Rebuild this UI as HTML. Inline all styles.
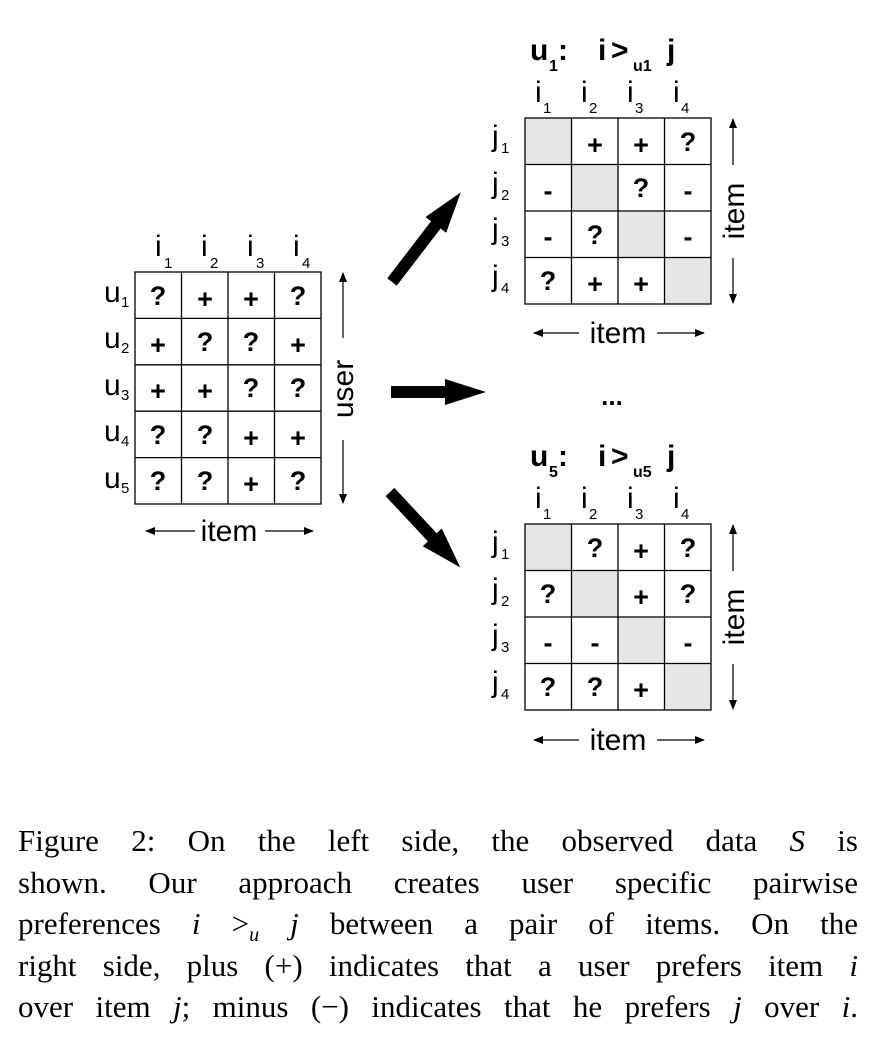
<!DOCTYPE html>
<html><head><meta charset="utf-8"><style>
html,body{margin:0;padding:0;background:#fff;width:878px;height:1044px;overflow:hidden}
svg{position:absolute;left:0;top:0}
.cap{position:absolute;left:18px;width:840px;top:820px;font-family:"Liberation Serif",serif;font-size:31px;line-height:41.5px;color:#000}
.cap div{text-align:justify;text-align-last:justify;white-space:nowrap;height:41.5px}
.cap i{font-style:italic}
</style></head><body>
<svg width="878" height="800" viewBox="0 0 878 800" font-family="Liberation Sans, sans-serif">
<defs>
<marker id="ah" markerWidth="10" markerHeight="8" refX="9" refY="4" orient="auto" markerUnits="userSpaceOnUse"><path d="M0,0 L10,4 L0,8 Z" fill="#000"/></marker>
</defs>
<g stroke="#000" stroke-width="1.3" fill="none">
<rect x="135" y="272" width="186" height="232"/>
<line x1="181.5" y1="272" x2="181.5" y2="504"/><line x1="228" y1="272" x2="228" y2="504"/><line x1="274.5" y1="272" x2="274.5" y2="504"/>
<line x1="135" y1="318.4" x2="321" y2="318.4"/><line x1="135" y1="364.8" x2="321" y2="364.8"/><line x1="135" y1="411.2" x2="321" y2="411.2"/><line x1="135" y1="457.6" x2="321" y2="457.6"/>
</g>
<g font-size="27" font-weight="bold" text-anchor="middle">
<text x="158" y="305">?</text><text x="205" y="308">+</text><text x="251" y="308">+</text><text x="298" y="305">?</text>
<text x="158" y="354">+</text><text x="205" y="351">?</text><text x="251" y="351">?</text><text x="298" y="354">+</text>
<text x="158" y="400">+</text><text x="205" y="400">+</text><text x="251" y="397">?</text><text x="298" y="397">?</text>
<text x="158" y="444">?</text><text x="205" y="444">?</text><text x="251" y="447">+</text><text x="298" y="447">+</text>
<text x="158" y="490">?</text><text x="205" y="490">?</text><text x="251" y="493">+</text><text x="298" y="490">?</text>
</g>
<g font-size="30">
<text x="155" y="256">i</text><text x="201" y="256">i</text><text x="247" y="256">i</text><text x="293" y="256">i</text>
<text x="104" y="302">u</text><text x="104" y="348">u</text><text x="104" y="395">u</text><text x="104" y="441">u</text><text x="104" y="488">u</text>
</g>
<g font-size="15">
<text x="164" y="268">1</text><text x="210" y="268">2</text><text x="256" y="268">3</text><text x="302" y="268">4</text>
<text x="121" y="307">1</text><text x="121" y="353">2</text><text x="121" y="400">3</text><text x="121" y="446">4</text><text x="121" y="493">5</text>
</g>
<line x1="343" y1="338" x2="343" y2="273" stroke="#000" stroke-width="1.2" marker-end="url(#ah)"/>
<line x1="343" y1="440" x2="343" y2="503" stroke="#000" stroke-width="1.2" marker-end="url(#ah)"/>
<text x="0" y="0" font-size="30" text-anchor="middle" transform="translate(353,389) rotate(-90)">user</text>
<line x1="195" y1="531" x2="146" y2="531" stroke="#000" stroke-width="1.2" marker-end="url(#ah)"/>
<line x1="265" y1="531" x2="313" y2="531" stroke="#000" stroke-width="1.2" marker-end="url(#ah)"/>
<text x="229" y="541" font-size="30" text-anchor="middle">item</text>

<polygon points="0,-6 54,-6 54,-13 95,0 54,13 54,6 0,6" fill="#000" transform="translate(391,392)"/>
<polygon points="0,-6 72,-6 72,-13 113,0 72,13 72,6 0,6" fill="#000" transform="translate(392,282) rotate(-52.5)"/>
<polygon points="0,-6 62,-6 62,-13 103,0 62,13 62,6 0,6" fill="#000" transform="translate(390,492) rotate(47)"/>

<g font-weight="bold" font-size="30">
<text x="530" y="60">u</text><text x="558" y="60">:</text><text x="598" y="60">i</text><text x="611" y="60">&gt;</text><text x="667" y="60">j</text>
</g>
<g font-weight="bold" font-size="16"><text x="549" y="71">1</text><text x="633" y="71">u1</text></g>
<rect x="525" y="118" width="46.5" height="46.5" fill="#e6e6e6"/>
<rect x="571.5" y="164.5" width="46.5" height="46.5" fill="#e6e6e6"/>
<rect x="618" y="211" width="46.5" height="46.5" fill="#e6e6e6"/>
<rect x="664.5" y="257.5" width="46.5" height="46.5" fill="#e6e6e6"/>
<g stroke="#000" stroke-width="1.3" fill="none">
<rect x="525" y="118" width="186" height="186"/>
<line x1="571.5" y1="118" x2="571.5" y2="304"/><line x1="618" y1="118" x2="618" y2="304"/><line x1="664.5" y1="118" x2="664.5" y2="304"/>
<line x1="525" y1="164.5" x2="711" y2="164.5"/><line x1="525" y1="211" x2="711" y2="211"/><line x1="525" y1="257.5" x2="711" y2="257.5"/>
</g>
<g font-size="27" font-weight="bold" text-anchor="middle">
<text x="595" y="154">+</text><text x="641" y="154">+</text><text x="688" y="151">?</text>
<text x="548" y="200">-</text><text x="641" y="197">?</text><text x="688" y="200">-</text>
<text x="548" y="246">-</text><text x="595" y="244">?</text><text x="688" y="246">-</text>
<text x="548" y="290">?</text><text x="595" y="293">+</text><text x="641" y="293">+</text>
</g>
<g font-size="30">
<text x="535" y="102">i</text><text x="581" y="102">i</text><text x="627" y="102">i</text><text x="673" y="102">i</text>
<text x="492" y="146">j</text><text x="492" y="193">j</text><text x="492" y="239">j</text><text x="492" y="286">j</text>
</g>
<g font-size="15">
<text x="543" y="113">1</text><text x="589" y="113">2</text><text x="635" y="113">3</text><text x="681" y="113">4</text>
<text x="501" y="153">1</text><text x="501" y="200">2</text><text x="501" y="246">3</text><text x="501" y="293">4</text>
</g>
<line x1="733" y1="165" x2="733" y2="119" stroke="#000" stroke-width="1.2" marker-end="url(#ah)"/>
<line x1="733" y1="258" x2="733" y2="303" stroke="#000" stroke-width="1.2" marker-end="url(#ah)"/>
<text x="0" y="0" font-size="30" text-anchor="middle" transform="translate(744,211) rotate(-90)">item</text>
<line x1="579" y1="333" x2="534" y2="333" stroke="#000" stroke-width="1.2" marker-end="url(#ah)"/>
<line x1="657" y1="333" x2="704" y2="333" stroke="#000" stroke-width="1.2" marker-end="url(#ah)"/>
<text x="618" y="343" font-size="30" text-anchor="middle">item</text>

<text x="612" y="405" font-size="26" font-weight="bold" text-anchor="middle">...</text>

<g font-weight="bold" font-size="30">
<text x="530" y="466">u</text><text x="558" y="466">:</text><text x="598" y="466">i</text><text x="611" y="466">&gt;</text><text x="667" y="466">j</text>
</g>
<g font-weight="bold" font-size="16"><text x="549" y="477">5</text><text x="633" y="477">u5</text></g>
<rect x="525" y="524" width="46.5" height="46.5" fill="#e6e6e6"/>
<rect x="571.5" y="570.5" width="46.5" height="46.5" fill="#e6e6e6"/>
<rect x="618" y="617" width="46.5" height="46.5" fill="#e6e6e6"/>
<rect x="664.5" y="663.5" width="46.5" height="46.5" fill="#e6e6e6"/>
<g stroke="#000" stroke-width="1.3" fill="none">
<rect x="525" y="524" width="186" height="186"/>
<line x1="571.5" y1="524" x2="571.5" y2="710"/><line x1="618" y1="524" x2="618" y2="710"/><line x1="664.5" y1="524" x2="664.5" y2="710"/>
<line x1="525" y1="570.5" x2="711" y2="570.5"/><line x1="525" y1="617" x2="711" y2="617"/><line x1="525" y1="663.5" x2="711" y2="663.5"/>
</g>
<g font-size="27" font-weight="bold" text-anchor="middle">
<text x="595" y="557">?</text><text x="641" y="560">+</text><text x="688" y="557">?</text>
<text x="548" y="603">?</text><text x="641" y="606">+</text><text x="688" y="603">?</text>
<text x="548" y="652">-</text><text x="595" y="652">-</text><text x="688" y="652">-</text>
<text x="548" y="696">?</text><text x="595" y="696">?</text><text x="641" y="699">+</text>
</g>
<g font-size="30">
<text x="535" y="508">i</text><text x="581" y="508">i</text><text x="627" y="508">i</text><text x="673" y="508">i</text>
<text x="492" y="552">j</text><text x="492" y="599">j</text><text x="492" y="645">j</text><text x="492" y="692">j</text>
</g>
<g font-size="15">
<text x="543" y="519">1</text><text x="589" y="519">2</text><text x="635" y="519">3</text><text x="681" y="519">4</text>
<text x="501" y="559">1</text><text x="501" y="606">2</text><text x="501" y="652">3</text><text x="501" y="699">4</text>
</g>
<line x1="733" y1="571" x2="733" y2="525" stroke="#000" stroke-width="1.2" marker-end="url(#ah)"/>
<line x1="733" y1="664" x2="733" y2="709" stroke="#000" stroke-width="1.2" marker-end="url(#ah)"/>
<text x="0" y="0" font-size="30" text-anchor="middle" transform="translate(744,617) rotate(-90)">item</text>
<line x1="579" y1="740" x2="534" y2="740" stroke="#000" stroke-width="1.2" marker-end="url(#ah)"/>
<line x1="657" y1="740" x2="704" y2="740" stroke="#000" stroke-width="1.2" marker-end="url(#ah)"/>
<text x="618" y="750" font-size="30" text-anchor="middle">item</text>
</svg>
<div class="cap">
<div>Figure 2: On the left side, the observed data <i>S</i> is</div>
<div>shown. Our approach creates user specific pairwise</div>
<div>preferences <i>i</i> &gt;<sub style="font-size:20px;line-height:0"><i>u</i></sub> <i>j</i> between a pair of items. On the</div>
<div>right side, plus (+) indicates that a user prefers item <i>i</i></div>
<div>over item <i>j</i>; minus (&minus;) indicates that he prefers <i>j</i> over <i>i</i>.</div>
</div>
</body></html>
